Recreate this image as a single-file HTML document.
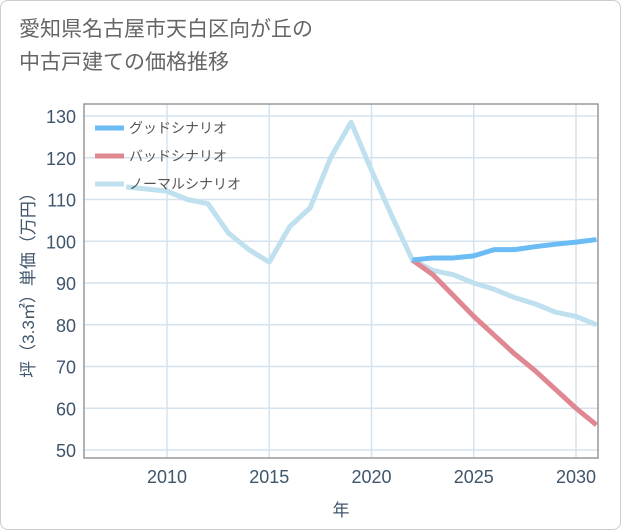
<!DOCTYPE html>
<html><head><meta charset="utf-8"><style>
body{margin:0;background:#fff;}
#wrap{position:relative;width:619px;height:528px;border:1px solid #ccc;border-radius:8px;background:#fff;overflow:hidden;font-family:"Liberation Sans","Noto Sans CJK JP",sans-serif;}
#title{position:absolute;left:18px;top:12px;font-size:21px;line-height:33px;color:#666;}
</style></head><body>
<div id="wrap">
<div id="title">愛知県名古屋市天白区向が丘の<br>中古戸建ての価格推移</div>
<svg id="chart" width="621" height="530" style="position:absolute;left:0;top:0"></svg>
</div>
<script>
const years=[2008,2009,2010,2011,2012,2013,2014,2015,2016,2017,2018,2019,2020,2021,2022,2023,2024,2025,2026,2027,2028,2029,2030,2031];
const normal=[113,112.5,112,110,109,102,98,95,103.5,108,120,128.5,117,106,95.5,93,92,90,88.5,86.5,85,83,82,80];
const fYears=[2022,2023,2024,2025,2026,2027,2028,2029,2030,2031];
const good=[95.5,96,96,96.5,98,98,98.7,99.3,99.8,100.4];
const bad=[95.5,92,87,82,77.5,73,69,64.5,60,56];
const yTicks=[50,60,70,80,90,100,110,120,130];
const xTicks=[2010,2015,2020,2025,2030];
const L=83,R=597,T=103,B=457;
const x=v=>166+(v-2010)*20.45;
const y=v=>449-(v-50)*4.175;
const svg=document.getElementById('chart');
const NS='http://www.w3.org/2000/svg';
function mk(t,a,txt){const e=document.createElementNS(NS,t);for(const k in a)e.setAttribute(k,a[k]);if(txt!==undefined)e.textContent=txt;svg.appendChild(e);return e;}
const defs=document.createElementNS(NS,'defs');defs.innerHTML='<clipPath id="cp"><rect x="83" y="103" width="514" height="354"/></clipPath>';svg.appendChild(defs);
yTicks.forEach(v=>{
 const g=mk('line',{x1:L,x2:R,y1:y(v),y2:y(v),stroke:'#d5e3ef','stroke-width':1.5});
 
 
 const t=mk('text',{x:L-8,y:y(v)+7,'text-anchor':'end','font-size':18,fill:'#3f556b'},v);
 
 
});
xTicks.forEach(v=>{
 const g=mk('line',{x1:x(v),x2:x(v),y1:T,y2:B,stroke:'#d5e3ef','stroke-width':1.5});
 
 
 const t=mk('text',{x:x(v),y:B+25,'text-anchor':'middle','font-size':18,fill:'#3f556b'},v);
 
 
});
const fr=mk('rect',{x:L,y:T,width:R-L,height:B-T,fill:'none',stroke:'#999','stroke-width':1.5});


function line(xs,ys,c,name){const p=mk('polyline',{points:xs.map((v,i)=>x(v)+','+y(ys[i])).join(' '),fill:'none',stroke:c,'stroke-width':5,'stroke-linejoin':'round','clip-path':'url(#cp)'});
 
 }
line(years,normal,'#bfe0ee','normal-scenario-line');
line(fYears,bad,'#df8891','bad-scenario-line');
line(fYears,good,'#6bbcf5','good-scenario-line');
const leg=[['グッドシナリオ','#6bbcf5'],['バッドシナリオ','#df8891'],['ノーマルシナリオ','#bfe0ee']];
leg.forEach((l,i)=>{const yy=127+i*28;
 const s=mk('line',{x1:94,x2:123,y1:yy,y2:yy,stroke:l[1],'stroke-width':5});
 
 
 const t=mk('text',{x:128,y:yy+5,'font-size':14,fill:'#555'},l[0]);
 
 
});
const xt=mk('text',{x:340,y:515,'text-anchor':'middle','font-size':17,fill:'#3f556b'},'年');


const yt=mk('text',{x:0,y:0,'text-anchor':'middle','font-size':17,fill:'#3f556b',transform:'translate(33,280) rotate(-90)'},'坪（3.3㎡）単価（万円）');


</script>
</body></html>
